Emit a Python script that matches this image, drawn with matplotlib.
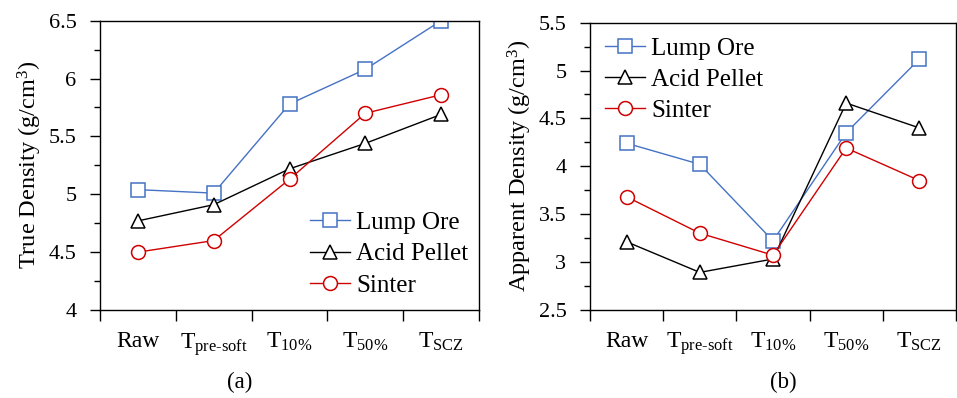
import matplotlib
matplotlib.use("Agg")
import matplotlib.pyplot as plt
import numpy as np

plt.rcParams['font.family'] = ['Liberation Serif', 'DejaVu Serif']
plt.rcParams['mathtext.fontset'] = 'custom'
plt.rcParams['mathtext.rm'] = 'Liberation Serif'
plt.rcParams['mathtext.it'] = 'Liberation Serif:italic'
plt.rcParams['mathtext.default'] = 'rm'

categories = ['Raw', r'T$_{\mathrm{pre\text{-}soft}}$', r'T$_{10\%}$', r'T$_{50\%}$', r'T$_{\mathrm{SCZ}}$']
series_names = ['Lump Ore', 'Acid Pellet', 'Sinter']

true_lump = [5.04, 5.01, 5.78, 6.08, 6.50]
true_pellet = [4.77, 4.91, 5.22, 5.44, 5.69]
true_sinter = [4.50, 4.60, 5.13, 5.70, 5.86]

app_lump = [4.24, 4.02, 3.22, 4.35, 5.12]
app_pellet = [3.21, 2.89, 3.03, 4.66, 4.40]
app_sinter = [3.68, 3.30, 3.07, 4.19, 3.85]

colors = ['#4472C4', '#000000', '#D00000']
markers = ['s', '^', 'o']

fig = plt.figure(figsize=(9.57, 3.98), dpi=100)
ax1 = fig.add_axes([100/957, 88/398, 379/957, 289.3/398])
ax2 = fig.add_axes([590/957, 88.3/398, 366/957, 287/398])

def draw(ax, data, ylim, yticks, ylabel, legend_anchor, caption, cap_x):
    x = np.arange(len(categories)) + 0.5
    for vals, c, m, name in zip(data, colors, markers, series_names):
        ax.plot(x, vals, color=c, marker=m, markersize=10, markerfacecolor='white',
                markeredgecolor=c, markeredgewidth=1.1, linewidth=1.0, label=name)
    ax.set_xlim(0, len(categories))
    ax.set_ylim(*ylim)
    ax.set_yticks(yticks)
    ax.set_yticklabels([('%g' % v) for v in yticks])
    ax.set_yticks(np.arange(ylim[0] + 0.25, ylim[1], 0.5), minor=True)
    ax.set_xticks(np.arange(len(categories) + 1))
    ax.set_xticklabels([])
    ax.set_xticks(x, minor=True)
    ax.set_xticklabels(categories, minor=True, fontsize=17)
    ax.tick_params(axis='x', which='major', direction='out', length=8, width=1)
    ax.tick_params(axis='x', which='minor', length=0, pad=15)
    ax.tick_params(axis='y', which='major', direction='out', length=7, width=1, labelsize=16, pad=10)
    ax.tick_params(axis='y', which='minor', direction='out', length=4.5, width=1)
    for s in ax.spines.values():
        s.set_linewidth(1.0)
    ax.set_ylabel(ylabel, fontsize=17.5, labelpad=3)
    ax.legend(loc='upper left', bbox_to_anchor=legend_anchor, frameon=False, fontsize=18,
              handlelength=1.6, handletextpad=0.25, labelspacing=0.35, borderpad=0, borderaxespad=0)
    fig.text(cap_x, 16/398, caption, ha='center', va='center', fontsize=16.5)

draw(ax1, [true_lump, true_pellet, true_sinter], (4, 6.5), [4, 4.5, 5, 5.5, 6, 6.5],
     'True Density (g/cm$^3$)', (0.554, 0.34), '(a)', 240/957)
draw(ax2, [app_lump, app_pellet, app_sinter], (2.5, 5.5), [2.5, 3, 3.5, 4, 4.5, 5, 5.5],
     'Apparent Density (g/cm$^3$)', (0.041, 0.95), '(b)', 783/957)

fig.savefig('out.png', dpi=100)
